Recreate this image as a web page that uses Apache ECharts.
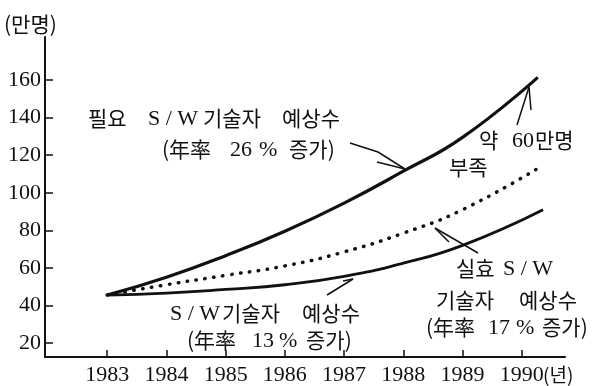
<!DOCTYPE html>
<html><head><meta charset="utf-8">
<script src="https://cdn.jsdelivr.net/npm/echarts@6/dist/echarts.min.js"></script>
<style>html,body{margin:0;padding:0;background:#fff}#c{width:598px;height:386px}</style>
</head><body><div id="c"></div>
<script>
// Data
var years = [1983, 1984, 1985, 1986, 1987, 1988, 1989, 1990.27];
var required = [45.5, 55, 66.5, 79.5, 94.5, 111.5, 129.5, 161.5];   // 필요 S/W기술자 예상수 (26%)
var effective = [45.5, 51, 56, 61, 68.5, 78.5, 91, 113];            // 실효 S/W기술자 예상수 (17%)
var supplyYears = [1983, 1984, 1985, 1986, 1987, 1988, 1989, 1990.36];
var supply = [45.5, 46.5, 48.5, 51, 55.5, 62.5, 72, 91];            // S/W기술자 예상수 (13%)
var xTicks = [1983, 1984, 1985, 1986, 1987, 1988, 1989, 1990];
var yTicks = [20, 40, 60, 80, 100, 120, 140, 160];

function pairs(xs, ys){ return xs.map(function(x,i){ return [x, ys[i]]; }); }

var numFont = '"Liberation Serif", "DejaVu Serif", serif';
var krFont = '"Noto Sans CJK KR", sans-serif';

function t(x, y, s, size, fam){
  return {type:'text', x:x, y:y, silent:true,
    style:{text:s, font:(size||21)+'px '+(fam||krFont), fill:'#111', align:'left', verticalAlign:'middle'}};
}
function ts(x, y, s, size){ return t(x, y, s, size||22, numFont); }
function ln(pts, w){
  return {type:'polyline', silent:true, shape:{points:pts}, style:{stroke:'#111', lineWidth:w||1.5, fill:null}};
}

var chart = echarts.init(document.getElementById('c'), null, {renderer:'canvas'});
chart.setOption({
  animation:false,
  backgroundColor:'#fff',
  grid:{left:45, right:33, top:37, bottom:28, containLabel:false},
  xAxis:{
    type:'value', min:1981.95, max:1990.73,
    axisLine:{show:true, lineStyle:{color:'#111', width:2}},
    axisTick:{show:true, inside:true, length:7, customValues:xTicks, lineStyle:{color:'#111', width:1.5}},
    axisLabel:{customValues:xTicks, margin:7, color:'#111', fontFamily:numFont, fontSize:22,
      formatter:function(v){return String(v);}},
    splitLine:{show:false}
  },
  yAxis:{
    type:'value', min:12.5, max:183,
    axisLine:{show:true, lineStyle:{color:'#111', width:2}},
    axisTick:{show:true, inside:true, length:8, customValues:yTicks, lineStyle:{color:'#111', width:1.5}},
    axisLabel:{customValues:yTicks, margin:4, color:'#111', fontFamily:numFont, fontSize:22},
    splitLine:{show:false}
  },
  series:[
    {type:'line', data:pairs(years, required), smooth:0.5, showSymbol:false,
      lineStyle:{color:'#111', width:3.2}},
    {type:'line', data:pairs(years, effective), smooth:0.5, showSymbol:false,
      lineStyle:{color:'#111', width:3.5, type:[0.5, 8.5], cap:'round'}},
    {type:'line', data:pairs(supplyYears, supply), smooth:0.5, showSymbol:false,
      lineStyle:{color:'#111', width:2.8}}
  ],
  graphic:[
    t(4, 24, '(만명)', 21),
    // 필요 S/W기술자 예상수 (年率 26 % 증가)
    t(88, 118, '필요'), ts(148, 119, 'S / W'), t(203, 118, '기술자'), t(282, 118, '예상수'),
    t(162, 149, '(年率'), ts(230, 150, '26'), ts(259, 150, '%'), t(289, 149, '증가)'),
    // 약 60만명 부족
    t(479, 140, '약'), ts(512, 141, '60'), t(535, 140, '만명'),
    t(449, 167, '부족'),
    // 실효 S/W 기술자 예상수 (年率 17 % 증가)
    t(456, 268, '실효'), ts(503, 269, 'S / W'),
    t(436, 300, '기술자'), t(519, 300, '예상수'),
    t(426, 327, '(年率'), ts(488, 328, '17'), ts(516, 328, '%'), t(542, 327, '증가)'),
    // S/W기술자 예상수 (年率 13 % 증가)
    ts(170, 314, 'S / W'), t(222, 313, '기술자'), t(302, 313, '예상수'),
    t(187, 340, '(年率'), ts(252, 341, '13'), ts(279, 341, '%'), t(306, 340, '증가)'),
    t(543, 375, '(년)', 19),
    // arrows
    ln([[350,143],[378,152],[405,169]]),
    ln([[377,162],[405,169]]),
    ln([[517,125],[529,87]]),
    ln([[531,110],[529,87]]),
    ln([[478,253],[435,228]]),
    ln([[449,242],[435,228]]),
    ln([[327,295],[353,279]]),
    ln([[343,281],[353,279]])
  ]
});
</script></body></html>
